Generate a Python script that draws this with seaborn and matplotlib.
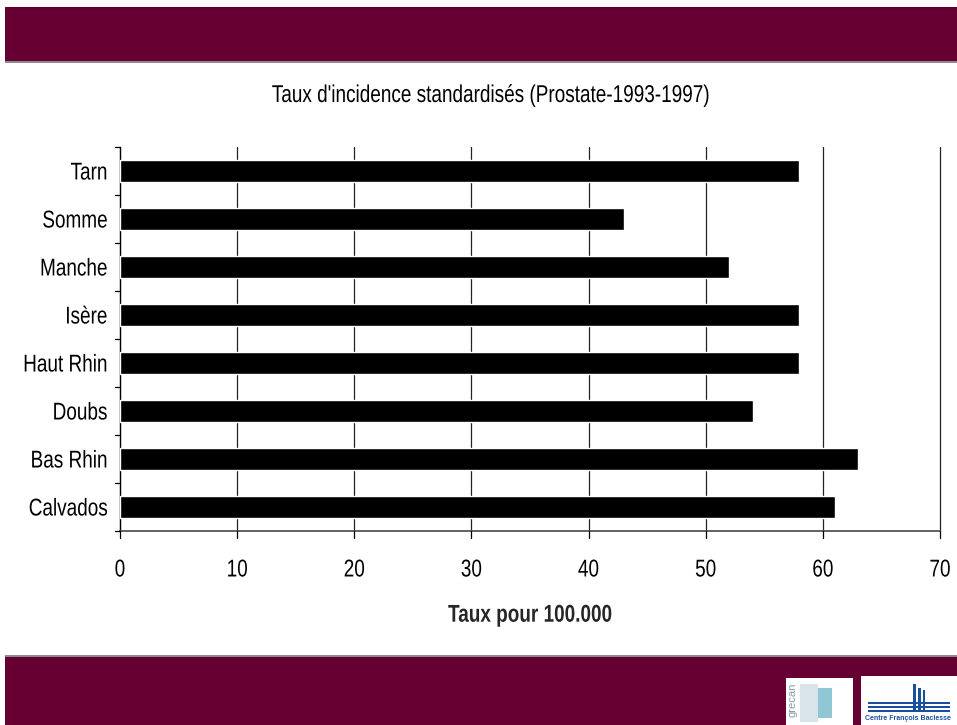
import matplotlib
matplotlib.use("Agg")
import matplotlib.pyplot as plt
import seaborn as sns
import pandas as pd
from matplotlib.patches import Rectangle
from matplotlib.patheffects import AbstractPathEffect
from matplotlib.transforms import Affine2D

# Standardised prostate cancer incidence, 1993-1997
departements = ["Tarn", "Somme", "Manche", "Isère", "Haut Rhin", "Doubs", "Bas Rhin", "Calvados"]
taux = [58, 43, 52, 58, 58, 54, 63, 61]
xticks = [0, 10, 20, 30, 40, 50, 60, 70]

titre = "Taux d'incidence standardisés (Prostate-1993-1997)"
xlabel = "Taux pour 100.000"

sns.set_theme(style="white")
plt.rcParams["font.family"] = ["Liberation Sans", "DejaVu Sans"]
plt.rcParams["text.color"] = "black"
plt.rcParams["xtick.color"] = "black"
plt.rcParams["ytick.color"] = "black"
plt.rcParams["xtick.labelcolor"] = "black"
plt.rcParams["ytick.labelcolor"] = "black"


class Condense(AbstractPathEffect):
    """Squeeze glyph outlines horizontally around a chosen anchor."""

    def __init__(self, sx=0.78, anchor="center"):
        super().__init__()
        self.sx = sx
        self.anchor = anchor

    def draw_path(self, renderer, gc, tpath, affine, rgbFace=None):
        ext = tpath.get_extents()
        if self.anchor == "left":
            x0 = 0.0
        elif self.anchor == "right":
            x0 = ext.x1
        else:
            x0 = 0.5 * (ext.x0 + ext.x1)
        t = Affine2D().translate(-x0, 0).scale(self.sx, 1).translate(x0, 0) + affine
        renderer.draw_path(gc, tpath, t, rgbFace)


BORDEAUX = "#660033"
FS = 17.5

fig = plt.figure(figsize=(9.57, 7.25), dpi=100)
W, H = 957, 725


def px_rect(x, y, w, h, color, z=0):
    # rectangle given in pixel coordinates measured from the top-left corner
    fig.patches.append(Rectangle((x / W, 1 - (y + h) / H), w / W, h / H,
                                 transform=fig.transFigure, facecolor=color,
                                 edgecolor="none", zorder=z))


# banners
px_rect(5, 7, 952, 54, BORDEAUX)
px_rect(5, 61, 952, 2, "#8c8c8c")
px_rect(5, 656, 952, 69, BORDEAUX)
px_rect(5, 655, 952, 2, "#8c8c8c")

# logos
px_rect(786, 678, 67, 47, "white", 1)
px_rect(861, 676, 96, 49, "white", 1)
fig.text(793 / W, 1 - 700 / H, "grecan", rotation=90, ha="center", va="center",
         fontsize=8, color="#8a9aa8", zorder=2)
px_rect(800, 684, 18, 38, "#d8e4ea", 2)
px_rect(818, 688, 14, 30, "#8fc7d4", 2)
px_rect(913, 684, 3, 26, "#1a4fa0", 2)
px_rect(918, 688, 3, 22, "#1a4fa0", 2)
px_rect(923, 690, 2, 20, "#1a4fa0", 2)
for yy in (702, 706, 710):
    px_rect(868, yy, 82, 2, "#1a4fa0", 2)
fig.text(908 / W, 1 - 718 / H, "Centre François Baclesse", ha="center", va="center",
         fontsize=5, color="#1a4fa0", fontweight="bold", zorder=3)

ax = fig.add_axes([120 / W, 1 - 531 / H, 820 / W, 384 / H])
df = pd.DataFrame({"dep": departements, "taux": taux})
sns.barplot(data=df, x="taux", y="dep", ax=ax, color="black", width=0.46,
            saturation=1, orient="h", zorder=3)

ax.set_xlim(0, 70)
ax.set_ylim(len(departements) - 0.5, -0.5)
ax.set_xticks(xticks)
ax.set_xticklabels([str(v) for v in xticks], fontsize=FS)
ax.set_yticks(range(len(departements)))
ax.set_yticklabels(departements, fontsize=FS)
ax.tick_params(axis="y", length=0, pad=9)
ax.tick_params(axis="x", length=0, pad=20.5)
for lab in ax.get_yticklabels():
    lab.set_path_effects([Condense(anchor="right")])
for lab in ax.get_xticklabels():
    lab.set_path_effects([Condense(anchor="center")])

# category boundary ticks on the y axis, crossing ticks on the x axis
n = len(departements)
for b in [i - 0.5 for i in range(n + 1)]:
    ax.plot([-0.45, 0], [b, b], color="black", lw=0.9, clip_on=False, zorder=4)
for v in xticks:
    ax.plot([v, v], [-0.5, n - 0.5], color="#222222", lw=0.9, clip_on=False, zorder=1)
    ax.plot([v, v], [n - 0.5, n - 0.5 + 0.14], color="black", lw=0.9, clip_on=False, zorder=4)

for s in ["top", "right"]:
    ax.spines[s].set_visible(False)
ax.spines["left"].set_color("black")
ax.spines["bottom"].set_color("#555555")
ax.spines["left"].set_linewidth(0.9)
ax.spines["bottom"].set_linewidth(1.3)

ax.set_xlabel(xlabel, fontsize=FS, fontweight="bold", labelpad=16)
ax.xaxis.label.set_path_effects([Condense(anchor="center")])
ax.set_ylabel("")
t = fig.text(490 / W, 1 - 96 / H, titre, ha="center", va="center", fontsize=FS)
t.set_path_effects([Condense(anchor="center")])

fig.savefig("out.png", dpi=100)
